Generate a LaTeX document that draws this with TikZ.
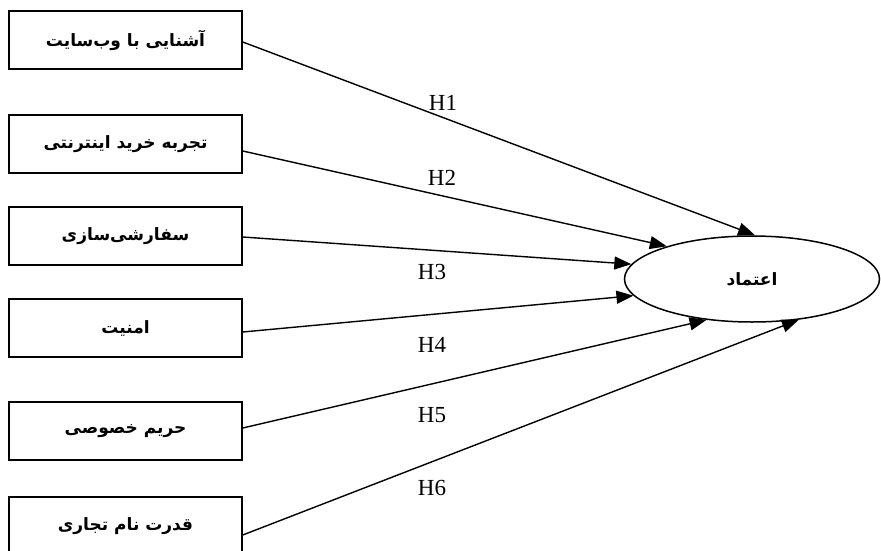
\documentclass[tikz,border=0pt]{standalone}
\usepackage{fontspec}
\usetikzlibrary{arrows.meta,shapes.geometric}
\TeXXeTstate=1
\newfontfamily\farsifont[Script=Arabic]{DejaVu Sans}
\newfontfamily\hfont{Liberation Serif}

\tikzset{
  factor/.style={draw, line width=1.5pt, minimum width=233pt, minimum height=58pt,
    inner sep=0pt, font=\farsifont\bfseries\fontsize{17}{20}\selectfont},
  hyp/.style={-{Triangle[length=17pt,width=13pt]}, line width=1.4pt},
  hlabel/.style={font=\hfont\fontsize{23}{25}\selectfont, inner sep=0pt}
}

\begin{document}
\begin{tikzpicture}[x=1pt,y=-1pt]
  \useasboundingbox (0,0) rectangle (881,551);

  % عوامل
  \node[factor] (web) at (125.5,40) {\beginR آشنایی با وب‌سایت\endR};
  \node[factor] (exp) at (125.5,144) {\beginR تجربه خرید اینترنتی\endR};
  \node[factor] (cust) at (125.5,236) {\beginR سفارشی‌سازی\endR};
  \node[factor] (sec) at (125.5,328) {\beginR امنیت\endR};
  \node[factor] (priv) at (125.5,431) {\beginR حریم خصوصی\endR};
  \node[factor] (brand) at (125.5,526) {\beginR قدرت نام تجاری\endR};

  % اعتماد
  \node[draw, ellipse, line width=1.5pt, minimum width=255pt, minimum height=86pt, inner sep=0pt,
    font=\farsifont\bfseries\fontsize{17}{20}\selectfont] (trust) at (752,279) {\beginR اعتماد\endR};

  % فرضیه‌ها
  \draw[hyp] ([yshift=-2pt]web.east) -- (trust.86);
  \draw[hyp] ([yshift=-7pt]exp.east) -- (trust.159);
  \draw[hyp] ([yshift=-1pt]cust.east) -- (trust.173);
  \draw[hyp] ([yshift=-4pt]sec.east) -- (trust.188);
  \draw[hyp] ([yshift=3pt]priv.east) -- (trust.222);
  \draw[hyp] ([yshift=-9pt]brand.east) -- (trust.319);

  % برچسب‌ها
  \node[hlabel] (h1) at (443,103) {H1};
  \node[hlabel] (h2) at (442,178) {H2};
  \node[hlabel] (h3) at (432,272) {H3};
  \node[hlabel] (h4) at (432,345) {H4};
  \node[hlabel] (h5) at (432,415) {H5};
  \node[hlabel] (h6) at (432,488) {H6};
\end{tikzpicture}
\end{document}
